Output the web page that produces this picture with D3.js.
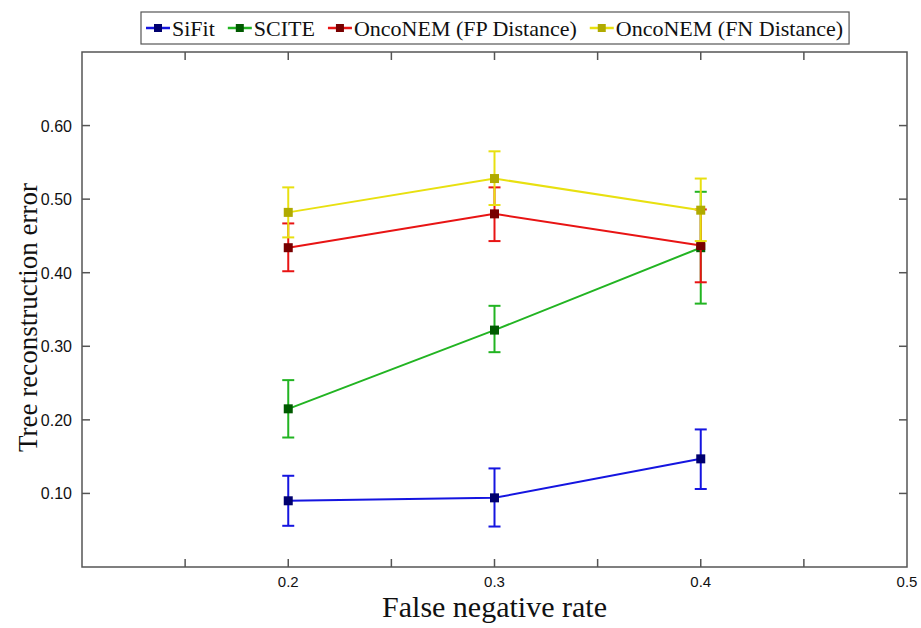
<!DOCTYPE html>
<html lang="en">
<head>
    <meta charset="UTF-8">
    <title>Tree reconstruction error</title>
    <script src="https://d3js.org/d3.v7.min.js"></script>
    <style>
        body {
            margin: 0;
            background: #fff;
        }
        .frame {
            fill: none;
            stroke: #555;
            stroke-width: 1.5px;
        }
        .tick-line {
            stroke: #555;
            stroke-width: 1.5px;
        }
        .tick-label {
            font-family: "Liberation Sans", Arial, sans-serif;
            fill: #111;
        }
        .axis-title {
            font-family: "Liberation Serif", "Times New Roman", serif;
            fill: #111;
        }
        .legend-text {
            font-family: "Liberation Serif", "Times New Roman", serif;
            font-size: 22px;
            fill: #111;
        }
    </style>
</head>
<body>
    <svg id="chart" width="921" height="628"></svg>

    <script>
        // x values (false negative rate)
        const fnRates = [0.2, 0.3, 0.4];

        // series: mean, lower and upper ends of the error bars
        const seriesNames = ['SiFit', 'SCITE', 'OncoNEM (FP Distance)', 'OncoNEM (FN Distance)'];
        const sifitMean  = [0.090, 0.094, 0.147];
        const sifitLow   = [0.056, 0.055, 0.106];
        const sifitHigh  = [0.124, 0.134, 0.187];
        const sciteMean  = [0.215, 0.322, 0.434];
        const sciteLow   = [0.176, 0.292, 0.358];
        const sciteHigh  = [0.254, 0.355, 0.510];
        const fpMean     = [0.434, 0.480, 0.437];
        const fpLow      = [0.402, 0.443, 0.387];
        const fpHigh     = [0.467, 0.516, 0.486];
        const fnMean     = [0.482, 0.528, 0.485];
        const fnLow      = [0.448, 0.492, 0.443];
        const fnHigh     = [0.516, 0.565, 0.528];

        // tick values
        const xTicks = [0.15, 0.2, 0.25, 0.3, 0.35, 0.4, 0.45];
        const xLabels = [0.2, 0.3, 0.4, 0.5];
        const yTicks = [0.1, 0.2, 0.3, 0.4, 0.5, 0.6];

        const lineColors = ['#1515e0', '#22b422', '#e81414', '#e8e010'];
        const markerColors = ['#00006e', '#005a00', '#780000', '#b0aa00'];

        const series = [
            { mean: sifitMean, low: sifitLow, high: sifitHigh },
            { mean: sciteMean, low: sciteLow, high: sciteHigh },
            { mean: fpMean, low: fpLow, high: fpHigh },
            { mean: fnMean, low: fnLow, high: fnHigh }
        ].map((s, i) => ({
            name: seriesNames[i],
            line: lineColors[i],
            marker: markerColors[i],
            points: fnRates.map((x, j) => ({ x: x, y: s.mean[j], lo: s.low[j], hi: s.high[j] }))
        }));

        const svg = d3.select('#chart');
        const plot = { left: 82, right: 907, top: 52, bottom: 567 };

        const x = d3.scaleLinear().domain([0.1, 0.5]).range([plot.left, plot.right]);
        const y = d3.scaleLinear().domain([0, 0.7]).range([plot.bottom, plot.top]);

        // frame
        svg.append('rect')
            .attr('class', 'frame')
            .attr('x', plot.left)
            .attr('y', plot.top)
            .attr('width', plot.right - plot.left)
            .attr('height', plot.bottom - plot.top);

        const tickLen = 8;

        // x ticks, inward on bottom and top
        const ticks = svg.append('g');
        xTicks.forEach(t => {
            ticks.append('line').attr('class', 'tick-line')
                .attr('x1', x(t)).attr('x2', x(t))
                .attr('y1', plot.bottom).attr('y2', plot.bottom - tickLen);
            ticks.append('line').attr('class', 'tick-line')
                .attr('x1', x(t)).attr('x2', x(t))
                .attr('y1', plot.top).attr('y2', plot.top + tickLen);
        });
        xLabels.forEach(t => {
            ticks.append('text').attr('class', 'tick-label')
                .attr('x', x(t)).attr('y', plot.bottom + 20)
                .attr('text-anchor', 'middle')
                .style('font-size', '15px')
                .text(d3.format('.1f')(t));
        });

        // y ticks, inward on left and right
        yTicks.forEach(t => {
            ticks.append('line').attr('class', 'tick-line')
                .attr('x1', plot.left).attr('x2', plot.left + tickLen)
                .attr('y1', y(t)).attr('y2', y(t));
            ticks.append('line').attr('class', 'tick-line')
                .attr('x1', plot.right).attr('x2', plot.right - tickLen)
                .attr('y1', y(t)).attr('y2', y(t));
            ticks.append('text').attr('class', 'tick-label')
                .attr('x', plot.left - 10).attr('y', y(t) + 6)
                .attr('text-anchor', 'end')
                .style('font-size', '16px')
                .text(d3.format('.2f')(t));
        });

        // axis titles
        svg.append('text').attr('class', 'axis-title')
            .attr('x', (plot.left + plot.right) / 2).attr('y', 617)
            .attr('text-anchor', 'middle')
            .style('font-size', '30px')
            .text('False negative rate');
        svg.append('text').attr('class', 'axis-title')
            .attr('transform', `translate(37,${(plot.top + plot.bottom) / 2 + 8}) rotate(-90)`)
            .attr('text-anchor', 'middle')
            .style('font-size', '27px')
            .text('Tree reconstruction error');

        // series
        const line = d3.line().x(d => x(d.x)).y(d => y(d.y));
        const capW = 6;
        const ms = 9;

        series.forEach(s => {
            const g = svg.append('g');
            g.append('path')
                .attr('d', line(s.points))
                .attr('fill', 'none')
                .attr('stroke', s.line)
                .attr('stroke-width', 2);

            s.points.forEach(p => {
                g.append('line')
                    .attr('x1', x(p.x)).attr('x2', x(p.x))
                    .attr('y1', y(p.lo)).attr('y2', y(p.hi))
                    .attr('stroke', s.line).attr('stroke-width', 2);
                [p.lo, p.hi].forEach(v => {
                    g.append('line')
                        .attr('x1', x(p.x) - capW).attr('x2', x(p.x) + capW)
                        .attr('y1', y(v)).attr('y2', y(v))
                        .attr('stroke', s.line).attr('stroke-width', 2);
                });
            });

            g.selectAll('rect.marker')
                .data(s.points)
                .enter().append('rect')
                .attr('class', 'marker')
                .attr('x', d => x(d.x) - ms / 2)
                .attr('y', d => y(d.y) - ms / 2)
                .attr('width', ms)
                .attr('height', ms)
                .attr('fill', s.marker);
        });

        // legend
        const legend = svg.append('g');
        const legendBox = legend.append('rect')
            .attr('y', 12)
            .attr('height', 32)
            .attr('fill', '#fff')
            .attr('stroke', '#555')
            .attr('stroke-width', 1.2);

        let lx = 146;
        series.forEach(s => {
            legend.append('line')
                .attr('x1', lx).attr('x2', lx + 24)
                .attr('y1', 28).attr('y2', 28)
                .attr('stroke', s.line).attr('stroke-width', 2.5);
            legend.append('rect')
                .attr('x', lx + 8).attr('y', 24)
                .attr('width', 8).attr('height', 8)
                .attr('fill', s.marker);
            const t = legend.append('text').attr('class', 'legend-text')
                .attr('x', lx + 26).attr('y', 36)
                .text(s.name);
            lx += 26 + t.node().getComputedTextLength() + 13;
        });
        legendBox.attr('x', 141).attr('width', lx - 141 - 7);
    </script>
</body>
</html>
